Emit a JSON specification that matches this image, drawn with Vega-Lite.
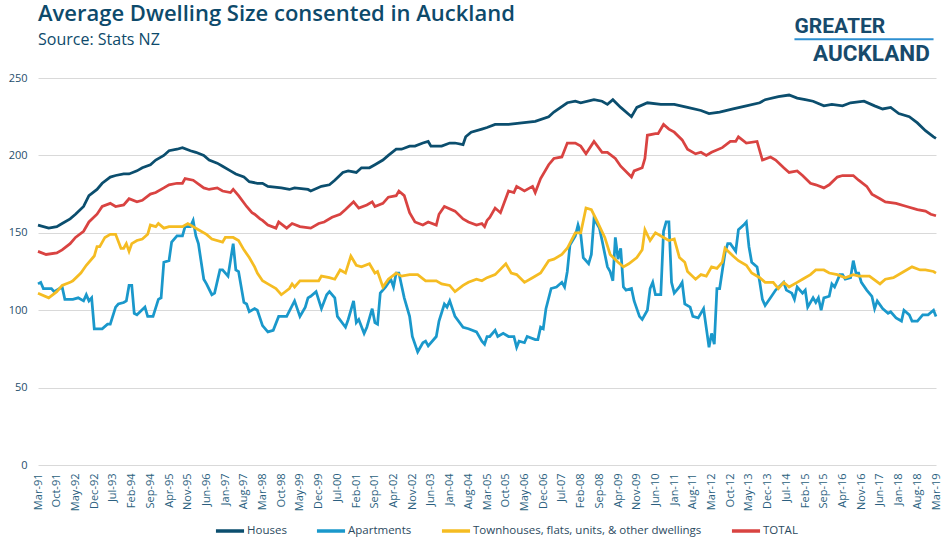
{
  "$schema": "https://vega.github.io/schema/vega-lite/v6.json",
  "width": 898,
  "height": 387,
  "autosize": {"type": "none"},
  "padding": {"left": 38, "top": 78, "right": 14, "bottom": 85},
  "background": "#ffffff",
  "title": {
    "text": "Average Dwelling Size consented in Auckland",
    "subtitle": "Source: Stats NZ",
    "anchor": "start",
    "frame": "group",
    "font": "Open Sans",
    "fontSize": 22,
    "fontWeight": 600,
    "color": "#0d4a6b",
    "subtitleFont": "Open Sans",
    "subtitleFontSize": 16,
    "subtitleColor": "#0d4a6b",
    "subtitlePadding": 6,
    "offset": -33
  },
  "config": {
    "view": {"stroke": null},
    "font": "Open Sans"
  },
  "datasets": {
    "houses": [
      {"d":"1991-03","v":155},{"d":"1991-07","v":153},{"d":"1991-10","v":154},{"d":"1991-12","v":156},
      {"d":"1992-03","v":159},{"d":"1992-05","v":162},{"d":"1992-08","v":167},{"d":"1992-10","v":174},
      {"d":"1993-01","v":178},{"d":"1993-03","v":182},{"d":"1993-06","v":186},{"d":"1993-08","v":187},
      {"d":"1993-11","v":188},{"d":"1994-01","v":188},{"d":"1994-04","v":190},{"d":"1994-06","v":192},
      {"d":"1994-09","v":194},{"d":"1994-11","v":197},{"d":"1995-02","v":200},{"d":"1995-04","v":203},
      {"d":"1995-07","v":204},{"d":"1995-09","v":205},{"d":"1995-12","v":203},{"d":"1996-02","v":202},
      {"d":"1996-05","v":200},{"d":"1996-07","v":197},{"d":"1996-10","v":195},{"d":"1996-12","v":193},
      {"d":"1997-03","v":190},{"d":"1997-05","v":188},{"d":"1997-08","v":186},{"d":"1997-10","v":183},
      {"d":"1998-01","v":182},{"d":"1998-03","v":182},{"d":"1998-05","v":180},{"d":"1998-10","v":179},
      {"d":"1999-01","v":178},{"d":"1999-03","v":179},{"d":"1999-08","v":178},{"d":"1999-09","v":177},
      {"d":"2000-01","v":180},{"d":"2000-04","v":181},{"d":"2000-06","v":184},{"d":"2000-09","v":189},
      {"d":"2000-11","v":190},{"d":"2001-02","v":189},{"d":"2001-04","v":192},{"d":"2001-07","v":192},
      {"d":"2001-09","v":194},{"d":"2001-12","v":197},{"d":"2002-02","v":200},{"d":"2002-05","v":204},
      {"d":"2002-07","v":204},{"d":"2002-10","v":206},{"d":"2002-12","v":206},{"d":"2003-03","v":208},
      {"d":"2003-05","v":209},{"d":"2003-06","v":206},{"d":"2003-10","v":206},{"d":"2004-01","v":208},
      {"d":"2004-03","v":208},{"d":"2004-06","v":207},{"d":"2004-07","v":212},{"d":"2004-09","v":215},
      {"d":"2005-01","v":217},{"d":"2005-03","v":218},{"d":"2005-06","v":220},{"d":"2005-11","v":220},
      {"d":"2006-04","v":221},{"d":"2006-09","v":222},{"d":"2007-02","v":225},{"d":"2007-04","v":228},
      {"d":"2007-09","v":234},{"d":"2007-12","v":235},{"d":"2008-02","v":234},{"d":"2008-07","v":236},
      {"d":"2008-10","v":235},{"d":"2008-12","v":233},{"d":"2009-02","v":236},{"d":"2009-05","v":231},
      {"d":"2009-09","v":225},{"d":"2009-11","v":231},{"d":"2010-03","v":234},{"d":"2010-08","v":233},
      {"d":"2011-01","v":233},{"d":"2011-06","v":231},{"d":"2011-11","v":229},{"d":"2012-02","v":227},
      {"d":"2012-06","v":228},{"d":"2012-11","v":230},{"d":"2013-04","v":232},{"d":"2013-09","v":234},
      {"d":"2013-11","v":236},{"d":"2014-04","v":238},{"d":"2014-08","v":239},{"d":"2014-11","v":237},
      {"d":"2015-02","v":236},{"d":"2015-05","v":235},{"d":"2015-09","v":232},{"d":"2015-12","v":233},
      {"d":"2016-04","v":232},{"d":"2016-07","v":234},{"d":"2016-12","v":235},{"d":"2017-04","v":232},
      {"d":"2017-07","v":230},{"d":"2017-10","v":231},{"d":"2018-01","v":227},{"d":"2018-05","v":225},
      {"d":"2018-08","v":221},{"d":"2018-11","v":216},{"d":"2019-02","v":212},{"d":"2019-03","v":211}
    ],
    "apartments": [
      {"d":"1991-03","v":117},{"d":"1991-04","v":118},{"d":"1991-05","v":114},{"d":"1991-08","v":114},
      {"d":"1991-09","v":112},{"d":"1991-12","v":115},{"d":"1992-01","v":107},{"d":"1992-04","v":107},
      {"d":"1992-06","v":108},{"d":"1992-08","v":106},{"d":"1992-09","v":110},{"d":"1992-10","v":106},
      {"d":"1992-11","v":108},{"d":"1992-12","v":88},{"d":"1993-03","v":88},{"d":"1993-05","v":91},
      {"d":"1993-06","v":91},{"d":"1993-08","v":102},{"d":"1993-09","v":104},{"d":"1993-11","v":105},
      {"d":"1993-12","v":106},{"d":"1994-01","v":116},{"d":"1994-02","v":116},{"d":"1994-03","v":98},
      {"d":"1994-04","v":97},{"d":"1994-07","v":102},{"d":"1994-08","v":96},{"d":"1994-10","v":96},
      {"d":"1994-12","v":107},{"d":"1995-01","v":108},{"d":"1995-02","v":131},{"d":"1995-04","v":132},
      {"d":"1995-05","v":144},{"d":"1995-07","v":148},{"d":"1995-09","v":148},{"d":"1995-10","v":154},
      {"d":"1995-12","v":154},{"d":"1996-01","v":158},{"d":"1996-02","v":148},{"d":"1996-03","v":143},
      {"d":"1996-05","v":120},{"d":"1996-06","v":117},{"d":"1996-08","v":110},{"d":"1996-09","v":111},
      {"d":"1996-11","v":126},{"d":"1996-12","v":126},{"d":"1997-02","v":122},{"d":"1997-04","v":143},
      {"d":"1997-05","v":126},{"d":"1997-06","v":125},{"d":"1997-08","v":105},{"d":"1997-09","v":104},
      {"d":"1997-10","v":99},{"d":"1997-12","v":101},{"d":"1998-01","v":100},{"d":"1998-03","v":90},
      {"d":"1998-05","v":86},{"d":"1998-07","v":87},{"d":"1998-09","v":96},{"d":"1998-10","v":96},
      {"d":"1998-12","v":96},{"d":"1999-03","v":106},{"d":"1999-05","v":96},{"d":"1999-07","v":102},
      {"d":"1999-08","v":108},{"d":"1999-09","v":109},{"d":"1999-11","v":112},{"d":"2000-01","v":101},
      {"d":"2000-03","v":110},{"d":"2000-04","v":112},{"d":"2000-06","v":108},{"d":"2000-07","v":96},
      {"d":"2000-10","v":89},{"d":"2000-11","v":94},{"d":"2001-01","v":106},{"d":"2001-02","v":92},
      {"d":"2001-03","v":94},{"d":"2001-05","v":85},{"d":"2001-06","v":89},{"d":"2001-08","v":101},
      {"d":"2001-09","v":92},{"d":"2001-10","v":91},{"d":"2001-11","v":111},{"d":"2002-01","v":115},
      {"d":"2002-03","v":120},{"d":"2002-04","v":115},{"d":"2002-05","v":124},{"d":"2002-06","v":124},
      {"d":"2002-08","v":108},{"d":"2002-10","v":96},{"d":"2002-11","v":83},{"d":"2003-01","v":73},
      {"d":"2003-03","v":79},{"d":"2003-04","v":80},{"d":"2003-05","v":77},{"d":"2003-08","v":83},
      {"d":"2003-09","v":93},{"d":"2003-11","v":104},{"d":"2003-12","v":102},{"d":"2004-01","v":106},
      {"d":"2004-03","v":96},{"d":"2004-06","v":89},{"d":"2004-08","v":88},{"d":"2004-11","v":86},
      {"d":"2005-01","v":80},{"d":"2005-02","v":78},{"d":"2005-03","v":83},{"d":"2005-04","v":83},
      {"d":"2005-06","v":87},{"d":"2005-07","v":83},{"d":"2005-09","v":85},{"d":"2005-11","v":83},
      {"d":"2006-01","v":83},{"d":"2006-02","v":76},{"d":"2006-03","v":80},{"d":"2006-05","v":79},
      {"d":"2006-06","v":83},{"d":"2006-09","v":81},{"d":"2006-10","v":81},{"d":"2006-11","v":89},
      {"d":"2006-12","v":88},{"d":"2007-01","v":101},{"d":"2007-03","v":114},{"d":"2007-05","v":115},
      {"d":"2007-07","v":118},{"d":"2007-08","v":115},{"d":"2007-09","v":125},{"d":"2007-10","v":142},
      {"d":"2007-12","v":148},{"d":"2008-01","v":155},{"d":"2008-02","v":149},{"d":"2008-03","v":134},
      {"d":"2008-05","v":130},{"d":"2008-06","v":136},{"d":"2008-07","v":159},{"d":"2008-09","v":153},
      {"d":"2008-10","v":145},{"d":"2008-12","v":128},{"d":"2009-01","v":125},{"d":"2009-02","v":119},
      {"d":"2009-03","v":147},{"d":"2009-04","v":133},{"d":"2009-05","v":140},{"d":"2009-06","v":115},
      {"d":"2009-07","v":113},{"d":"2009-09","v":114},{"d":"2009-10","v":106},{"d":"2009-12","v":96},
      {"d":"2010-01","v":94},{"d":"2010-03","v":100},{"d":"2010-04","v":114},{"d":"2010-05","v":118},
      {"d":"2010-06","v":110},{"d":"2010-08","v":110},{"d":"2010-09","v":151},{"d":"2010-10","v":157},
      {"d":"2010-11","v":157},{"d":"2010-12","v":118},{"d":"2011-01","v":111},{"d":"2011-03","v":115},
      {"d":"2011-04","v":118},{"d":"2011-05","v":104},{"d":"2011-07","v":102},{"d":"2011-08","v":96},
      {"d":"2011-10","v":95},{"d":"2011-12","v":101},{"d":"2012-02","v":76},{"d":"2012-03","v":85},
      {"d":"2012-04","v":78},{"d":"2012-05","v":114},{"d":"2012-06","v":114},{"d":"2012-08","v":137},
      {"d":"2012-09","v":143},{"d":"2012-10","v":143},{"d":"2012-12","v":138},{"d":"2013-01","v":152},
      {"d":"2013-03","v":155},{"d":"2013-04","v":157},{"d":"2013-05","v":141},{"d":"2013-06","v":131},
      {"d":"2013-08","v":128},{"d":"2013-09","v":118},{"d":"2013-10","v":107},{"d":"2013-11","v":103},
      {"d":"2014-01","v":108},{"d":"2014-03","v":113},{"d":"2014-06","v":118},{"d":"2014-07","v":113},
      {"d":"2014-09","v":111},{"d":"2014-10","v":107},{"d":"2014-11","v":115},{"d":"2015-01","v":111},
      {"d":"2015-02","v":113},{"d":"2015-03","v":102},{"d":"2015-05","v":108},{"d":"2015-06","v":105},
      {"d":"2015-07","v":108},{"d":"2015-08","v":100},{"d":"2015-09","v":108},{"d":"2015-11","v":109},
      {"d":"2015-12","v":117},{"d":"2016-01","v":115},{"d":"2016-03","v":123},{"d":"2016-04","v":123},
      {"d":"2016-05","v":120},{"d":"2016-07","v":121},{"d":"2016-08","v":132},{"d":"2016-09","v":124},
      {"d":"2016-10","v":124},{"d":"2016-11","v":118},{"d":"2017-01","v":113},{"d":"2017-03","v":109},
      {"d":"2017-04","v":101},{"d":"2017-05","v":106},{"d":"2017-07","v":101},{"d":"2017-09","v":98},
      {"d":"2017-10","v":99},{"d":"2017-12","v":95},{"d":"2018-02","v":93},{"d":"2018-03","v":100},
      {"d":"2018-05","v":97},{"d":"2018-06","v":93},{"d":"2018-08","v":93},{"d":"2018-10","v":97},
      {"d":"2018-12","v":97},{"d":"2019-02","v":100},{"d":"2019-03","v":96}
    ],
    "townhouses": [
      {"d":"1991-03","v":111},{"d":"1991-07","v":108},{"d":"1991-10","v":112},{"d":"1991-12","v":116},
      {"d":"1992-03","v":118},{"d":"1992-04","v":119},{"d":"1992-07","v":124},{"d":"1992-09","v":129},
      {"d":"1992-12","v":135},{"d":"1993-01","v":141},{"d":"1993-02","v":141},{"d":"1993-04","v":147},
      {"d":"1993-06","v":149},{"d":"1993-08","v":149},{"d":"1993-10","v":140},{"d":"1993-11","v":140},
      {"d":"1993-12","v":143},{"d":"1994-01","v":138},{"d":"1994-02","v":143},{"d":"1994-04","v":145},
      {"d":"1994-06","v":146},{"d":"1994-08","v":149},{"d":"1994-09","v":155},{"d":"1994-11","v":154},
      {"d":"1994-12","v":156},{"d":"1995-02","v":153},{"d":"1995-04","v":154},{"d":"1995-07","v":154},
      {"d":"1995-09","v":154},{"d":"1995-11","v":156},{"d":"1996-01","v":154},{"d":"1996-03","v":152},
      {"d":"1996-06","v":149},{"d":"1996-08","v":146},{"d":"1996-12","v":144},{"d":"1997-01","v":147},
      {"d":"1997-04","v":147},{"d":"1997-06","v":145},{"d":"1997-08","v":139},{"d":"1997-10","v":134},
      {"d":"1997-12","v":128},{"d":"1998-01","v":124},{"d":"1998-03","v":119},{"d":"1998-05","v":117},
      {"d":"1998-08","v":114},{"d":"1998-10","v":110},{"d":"1999-01","v":114},{"d":"1999-02","v":117},
      {"d":"1999-03","v":115},{"d":"1999-05","v":119},{"d":"1999-08","v":119},{"d":"1999-12","v":119},
      {"d":"2000-01","v":122},{"d":"2000-04","v":121},{"d":"2000-06","v":120},{"d":"2000-08","v":126},
      {"d":"2000-10","v":124},{"d":"2000-12","v":135},{"d":"2001-02","v":129},{"d":"2001-04","v":128},
      {"d":"2001-07","v":130},{"d":"2001-09","v":124},{"d":"2001-10","v":125},{"d":"2001-12","v":115},
      {"d":"2002-02","v":120},{"d":"2002-05","v":124},{"d":"2002-07","v":122},{"d":"2002-10","v":123},
      {"d":"2003-01","v":123},{"d":"2003-04","v":119},{"d":"2003-08","v":119},{"d":"2003-10","v":117},
      {"d":"2004-01","v":116},{"d":"2004-03","v":112},{"d":"2004-06","v":116},{"d":"2004-08","v":118},
      {"d":"2004-11","v":120},{"d":"2005-01","v":119},{"d":"2005-03","v":121},{"d":"2005-06","v":123},
      {"d":"2005-10","v":130},{"d":"2005-12","v":124},{"d":"2006-02","v":123},{"d":"2006-05","v":118},
      {"d":"2006-08","v":121},{"d":"2006-11","v":124},{"d":"2007-02","v":132},{"d":"2007-04","v":133},
      {"d":"2007-07","v":136},{"d":"2007-09","v":140},{"d":"2007-12","v":150},{"d":"2008-02","v":150},
      {"d":"2008-04","v":166},{"d":"2008-06","v":165},{"d":"2008-08","v":158},{"d":"2008-11","v":147},
      {"d":"2009-01","v":136},{"d":"2009-04","v":131},{"d":"2009-06","v":128},{"d":"2009-08","v":130},
      {"d":"2009-11","v":134},{"d":"2010-01","v":139},{"d":"2010-02","v":152},{"d":"2010-04","v":145},
      {"d":"2010-06","v":150},{"d":"2010-09","v":147},{"d":"2010-11","v":145},{"d":"2011-01","v":146},
      {"d":"2011-03","v":134},{"d":"2011-05","v":131},{"d":"2011-06","v":125},{"d":"2011-09","v":120},
      {"d":"2011-11","v":123},{"d":"2012-01","v":122},{"d":"2012-03","v":128},{"d":"2012-05","v":127},
      {"d":"2012-07","v":131},{"d":"2012-08","v":140},{"d":"2012-11","v":135},{"d":"2013-01","v":132},
      {"d":"2013-04","v":129},{"d":"2013-06","v":124},{"d":"2013-09","v":121},{"d":"2013-11","v":118},
      {"d":"2014-02","v":118},{"d":"2014-04","v":114},{"d":"2014-06","v":118},{"d":"2014-08","v":115},
      {"d":"2014-11","v":118},{"d":"2015-01","v":120},{"d":"2015-04","v":123},{"d":"2015-06","v":126},
      {"d":"2015-09","v":126},{"d":"2015-11","v":124},{"d":"2016-02","v":123},{"d":"2016-05","v":121},
      {"d":"2016-08","v":123},{"d":"2016-10","v":122},{"d":"2017-02","v":122},{"d":"2017-06","v":117},
      {"d":"2017-08","v":120},{"d":"2017-11","v":121},{"d":"2018-03","v":125},{"d":"2018-06","v":128},
      {"d":"2018-09","v":126},{"d":"2018-11","v":126},{"d":"2019-02","v":125},{"d":"2019-03","v":124}
    ],
    "total": [
      {"d":"1991-03","v":138},{"d":"1991-06","v":136},{"d":"1991-10","v":137},{"d":"1991-12","v":139},
      {"d":"1992-03","v":143},{"d":"1992-05","v":147},{"d":"1992-08","v":151},{"d":"1992-10","v":157},
      {"d":"1993-01","v":162},{"d":"1993-03","v":167},{"d":"1993-06","v":169},{"d":"1993-08","v":167},
      {"d":"1993-11","v":168},{"d":"1994-01","v":172},{"d":"1994-04","v":170},{"d":"1994-06","v":171},
      {"d":"1994-09","v":175},{"d":"1994-11","v":176},{"d":"1995-02","v":179},{"d":"1995-04","v":181},
      {"d":"1995-07","v":182},{"d":"1995-09","v":182},{"d":"1995-10","v":185},{"d":"1996-01","v":184},
      {"d":"1996-05","v":179},{"d":"1996-07","v":178},{"d":"1996-10","v":179},{"d":"1996-12","v":177},
      {"d":"1997-03","v":176},{"d":"1997-04","v":178},{"d":"1997-06","v":174},{"d":"1997-09","v":167},
      {"d":"1997-11","v":163},{"d":"1997-12","v":162},{"d":"1998-02","v":159},{"d":"1998-03","v":158},
      {"d":"1998-05","v":155},{"d":"1998-08","v":153},{"d":"1998-09","v":157},{"d":"1998-12","v":153},
      {"d":"1999-02","v":156},{"d":"1999-05","v":154},{"d":"1999-09","v":153},{"d":"1999-12","v":156},
      {"d":"2000-02","v":157},{"d":"2000-05","v":160},{"d":"2000-08","v":162},{"d":"2000-10","v":165},
      {"d":"2001-01","v":170},{"d":"2001-03","v":166},{"d":"2001-06","v":168},{"d":"2001-08","v":170},
      {"d":"2001-09","v":167},{"d":"2001-12","v":169},{"d":"2002-02","v":173},{"d":"2002-05","v":174},
      {"d":"2002-06","v":177},{"d":"2002-08","v":174},{"d":"2002-10","v":163},{"d":"2002-12","v":157},
      {"d":"2003-03","v":155},{"d":"2003-05","v":157},{"d":"2003-08","v":155},{"d":"2003-09","v":162},
      {"d":"2003-11","v":167},{"d":"2004-03","v":164},{"d":"2004-06","v":159},{"d":"2004-08","v":157},
      {"d":"2004-11","v":155},{"d":"2005-01","v":156},{"d":"2005-02","v":154},{"d":"2005-03","v":158},
      {"d":"2005-04","v":160},{"d":"2005-06","v":166},{"d":"2005-08","v":163},{"d":"2005-11","v":177},
      {"d":"2006-01","v":176},{"d":"2006-02","v":180},{"d":"2006-05","v":177},{"d":"2006-08","v":180},
      {"d":"2006-09","v":176},{"d":"2006-11","v":185},{"d":"2007-02","v":194},{"d":"2007-04","v":198},
      {"d":"2007-07","v":199},{"d":"2007-09","v":208},{"d":"2007-12","v":208},{"d":"2008-02","v":206},
      {"d":"2008-04","v":201},{"d":"2008-07","v":209},{"d":"2008-10","v":202},{"d":"2008-12","v":202},
      {"d":"2009-03","v":198},{"d":"2009-05","v":193},{"d":"2009-09","v":186},{"d":"2009-10","v":190},
      {"d":"2010-01","v":192},{"d":"2010-02","v":198},{"d":"2010-03","v":213},{"d":"2010-06","v":214},
      {"d":"2010-07","v":214},{"d":"2010-09","v":220},{"d":"2010-11","v":217},{"d":"2011-01","v":215},
      {"d":"2011-04","v":210},{"d":"2011-06","v":204},{"d":"2011-09","v":201},{"d":"2011-11","v":202},
      {"d":"2012-01","v":200},{"d":"2012-03","v":202},{"d":"2012-07","v":205},{"d":"2012-10","v":209},
      {"d":"2012-12","v":209},{"d":"2013-01","v":212},{"d":"2013-04","v":208},{"d":"2013-08","v":209},
      {"d":"2013-10","v":197},{"d":"2014-01","v":199},{"d":"2014-03","v":197},{"d":"2014-06","v":192},
      {"d":"2014-08","v":189},{"d":"2014-11","v":190},{"d":"2015-01","v":187},{"d":"2015-04","v":182},
      {"d":"2015-06","v":181},{"d":"2015-09","v":179},{"d":"2015-11","v":181},{"d":"2016-02","v":186},
      {"d":"2016-04","v":187},{"d":"2016-08","v":187},{"d":"2016-10","v":184},{"d":"2017-01","v":180},
      {"d":"2017-03","v":175},{"d":"2017-06","v":172},{"d":"2017-08","v":170},{"d":"2017-12","v":169},
      {"d":"2018-04","v":167},{"d":"2018-08","v":165},{"d":"2018-11","v":164},{"d":"2019-01","v":162},
      {"d":"2019-03","v":161}
    ],
    "logoTop": [{"t": "GREATER", "x": "2014-10", "y": 279}],
    "logoBottom": [{"t": "AUCKLAND", "x": "2015-05", "y": 261}],
    "logoLine": [{"x": "2014-10", "x2": "2019-02", "y": 275}]
  },
  "encoding": {
    "x": {
      "field": "d",
      "type": "temporal",
      "title": null,
      "scale": {"domain": [{"year": 1991, "month": 3, "date": 1}, {"year": 2019, "month": 3, "date": 1}]},
      "axis": {
        "values": [
          {"year":1991,"month":3,"date":1},{"year":1991,"month":10,"date":1},{"year":1992,"month":5,"date":1},
          {"year":1992,"month":12,"date":1},{"year":1993,"month":7,"date":1},{"year":1994,"month":2,"date":1},
          {"year":1994,"month":9,"date":1},{"year":1995,"month":4,"date":1},{"year":1995,"month":11,"date":1},
          {"year":1996,"month":6,"date":1},{"year":1997,"month":1,"date":1},{"year":1997,"month":8,"date":1},
          {"year":1998,"month":3,"date":1},{"year":1998,"month":10,"date":1},{"year":1999,"month":5,"date":1},
          {"year":1999,"month":12,"date":1},{"year":2000,"month":7,"date":1},{"year":2001,"month":2,"date":1},
          {"year":2001,"month":9,"date":1},{"year":2002,"month":4,"date":1},{"year":2002,"month":11,"date":1},
          {"year":2003,"month":6,"date":1},{"year":2004,"month":1,"date":1},{"year":2004,"month":8,"date":1},
          {"year":2005,"month":3,"date":1},{"year":2005,"month":10,"date":1},{"year":2006,"month":5,"date":1},
          {"year":2006,"month":12,"date":1},{"year":2007,"month":7,"date":1},{"year":2008,"month":2,"date":1},
          {"year":2008,"month":9,"date":1},{"year":2009,"month":4,"date":1},{"year":2009,"month":11,"date":1},
          {"year":2010,"month":6,"date":1},{"year":2011,"month":1,"date":1},{"year":2011,"month":8,"date":1},
          {"year":2012,"month":3,"date":1},{"year":2012,"month":10,"date":1},{"year":2013,"month":5,"date":1},
          {"year":2013,"month":12,"date":1},{"year":2014,"month":7,"date":1},{"year":2015,"month":2,"date":1},
          {"year":2015,"month":9,"date":1},{"year":2016,"month":4,"date":1},{"year":2016,"month":11,"date":1},
          {"year":2017,"month":6,"date":1},{"year":2018,"month":1,"date":1},{"year":2018,"month":8,"date":1},
          {"year":2019,"month":3,"date":1}
        ],
        "format": "%b-%y",
        "labelAngle": -90,
        "labelAlign": "right",
        "labelBaseline": "middle",
        "labelFont": "Open Sans",
        "labelFontSize": 11,
        "labelColor": "#2b5f80",
        "labelPadding": 8,
        "labelOverlap": false,
        "labelBound": false,
        "labelFlush": false,
        "ticks": false,
        "grid": false,
        "domain": false
      }
    },
    "y": {
      "field": "v",
      "type": "quantitative",
      "title": null,
      "scale": {"domain": [0, 250]},
      "axis": {
        "values": [0, 50, 100, 150, 200, 250],
        "domain": false,
        "ticks": false,
        "gridColor": "#d9d9d9",
        "gridWidth": 1,
        "labelFont": "Open Sans",
        "labelFontSize": 11,
        "labelColor": "#1f4e6b",
        "labelPadding": 11
      }
    }
  },
  "layer": [
    {
      "data": {"name": "houses", "format": {"parse": {"d": "date:'%Y-%m'"}}},
      "mark": {"type": "line", "strokeWidth": 2.75},
      "encoding": {
        "color": {
          "datum": "Houses",
          "scale": {
            "domain": ["Houses", "Apartments", "Townhouses, flats, units, & other dwellings", "TOTAL"],
            "range": ["#0b4e6e", "#1a98cb", "#f5bc22", "#d94341"]
          },
          "legend": {
            "orient": "none",
            "legendX": 176,
            "legendY": 437,
            "direction": "horizontal",
            "title": null,
            "symbolType": "stroke",
            "symbolStrokeWidth": 3.5,
            "symbolSize": 790,
            "labelFont": "Open Sans",
            "labelFontSize": 11.5,
            "labelColor": "#2b4a60",
            "labelOffset": 1,
            "labelLimit": 0,
            "columnPadding": 22
          }
        }
      }
    },
    {
      "data": {"name": "apartments", "format": {"parse": {"d": "date:'%Y-%m'"}}},
      "mark": {"type": "line", "strokeWidth": 2.75},
      "encoding": {"color": {"datum": "Apartments"}}
    },
    {
      "data": {"name": "townhouses", "format": {"parse": {"d": "date:'%Y-%m'"}}},
      "mark": {"type": "line", "strokeWidth": 2.75},
      "encoding": {"color": {"datum": "Townhouses, flats, units, & other dwellings"}}
    },
    {
      "data": {"name": "total", "format": {"parse": {"d": "date:'%Y-%m'"}}},
      "mark": {"type": "line", "strokeWidth": 2.75},
      "encoding": {"color": {"datum": "TOTAL"}}
    },
    {
      "data": {"name": "logoTop", "format": {"parse": {"x": "date:'%Y-%m'"}}},
      "mark": {"type": "text", "align": "left", "baseline": "alphabetic", "font": "Roboto", "fontWeight": 700, "fontSize": 21, "fill": "#174a6b"},
      "encoding": {
        "x": {"field": "x", "type": "temporal"},
        "y": {"field": "y", "type": "quantitative"},
        "text": {"field": "t"}
      }
    },
    {
      "data": {"name": "logoBottom", "format": {"parse": {"x": "date:'%Y-%m'"}}},
      "mark": {"type": "text", "align": "left", "baseline": "alphabetic", "font": "Roboto", "fontWeight": 700, "fontSize": 22.5, "fill": "#174a6b"},
      "encoding": {
        "x": {"field": "x", "type": "temporal"},
        "y": {"field": "y", "type": "quantitative"},
        "text": {"field": "t"}
      }
    },
    {
      "data": {"name": "logoLine", "format": {"parse": {"x": "date:'%Y-%m'", "x2": "date:'%Y-%m'"}}},
      "mark": {"type": "rule", "stroke": "#2d8fd1", "strokeWidth": 2},
      "encoding": {
        "x": {"field": "x", "type": "temporal"},
        "x2": {"field": "x2"},
        "y": {"field": "y", "type": "quantitative"}
      }
    }
  ]
}
